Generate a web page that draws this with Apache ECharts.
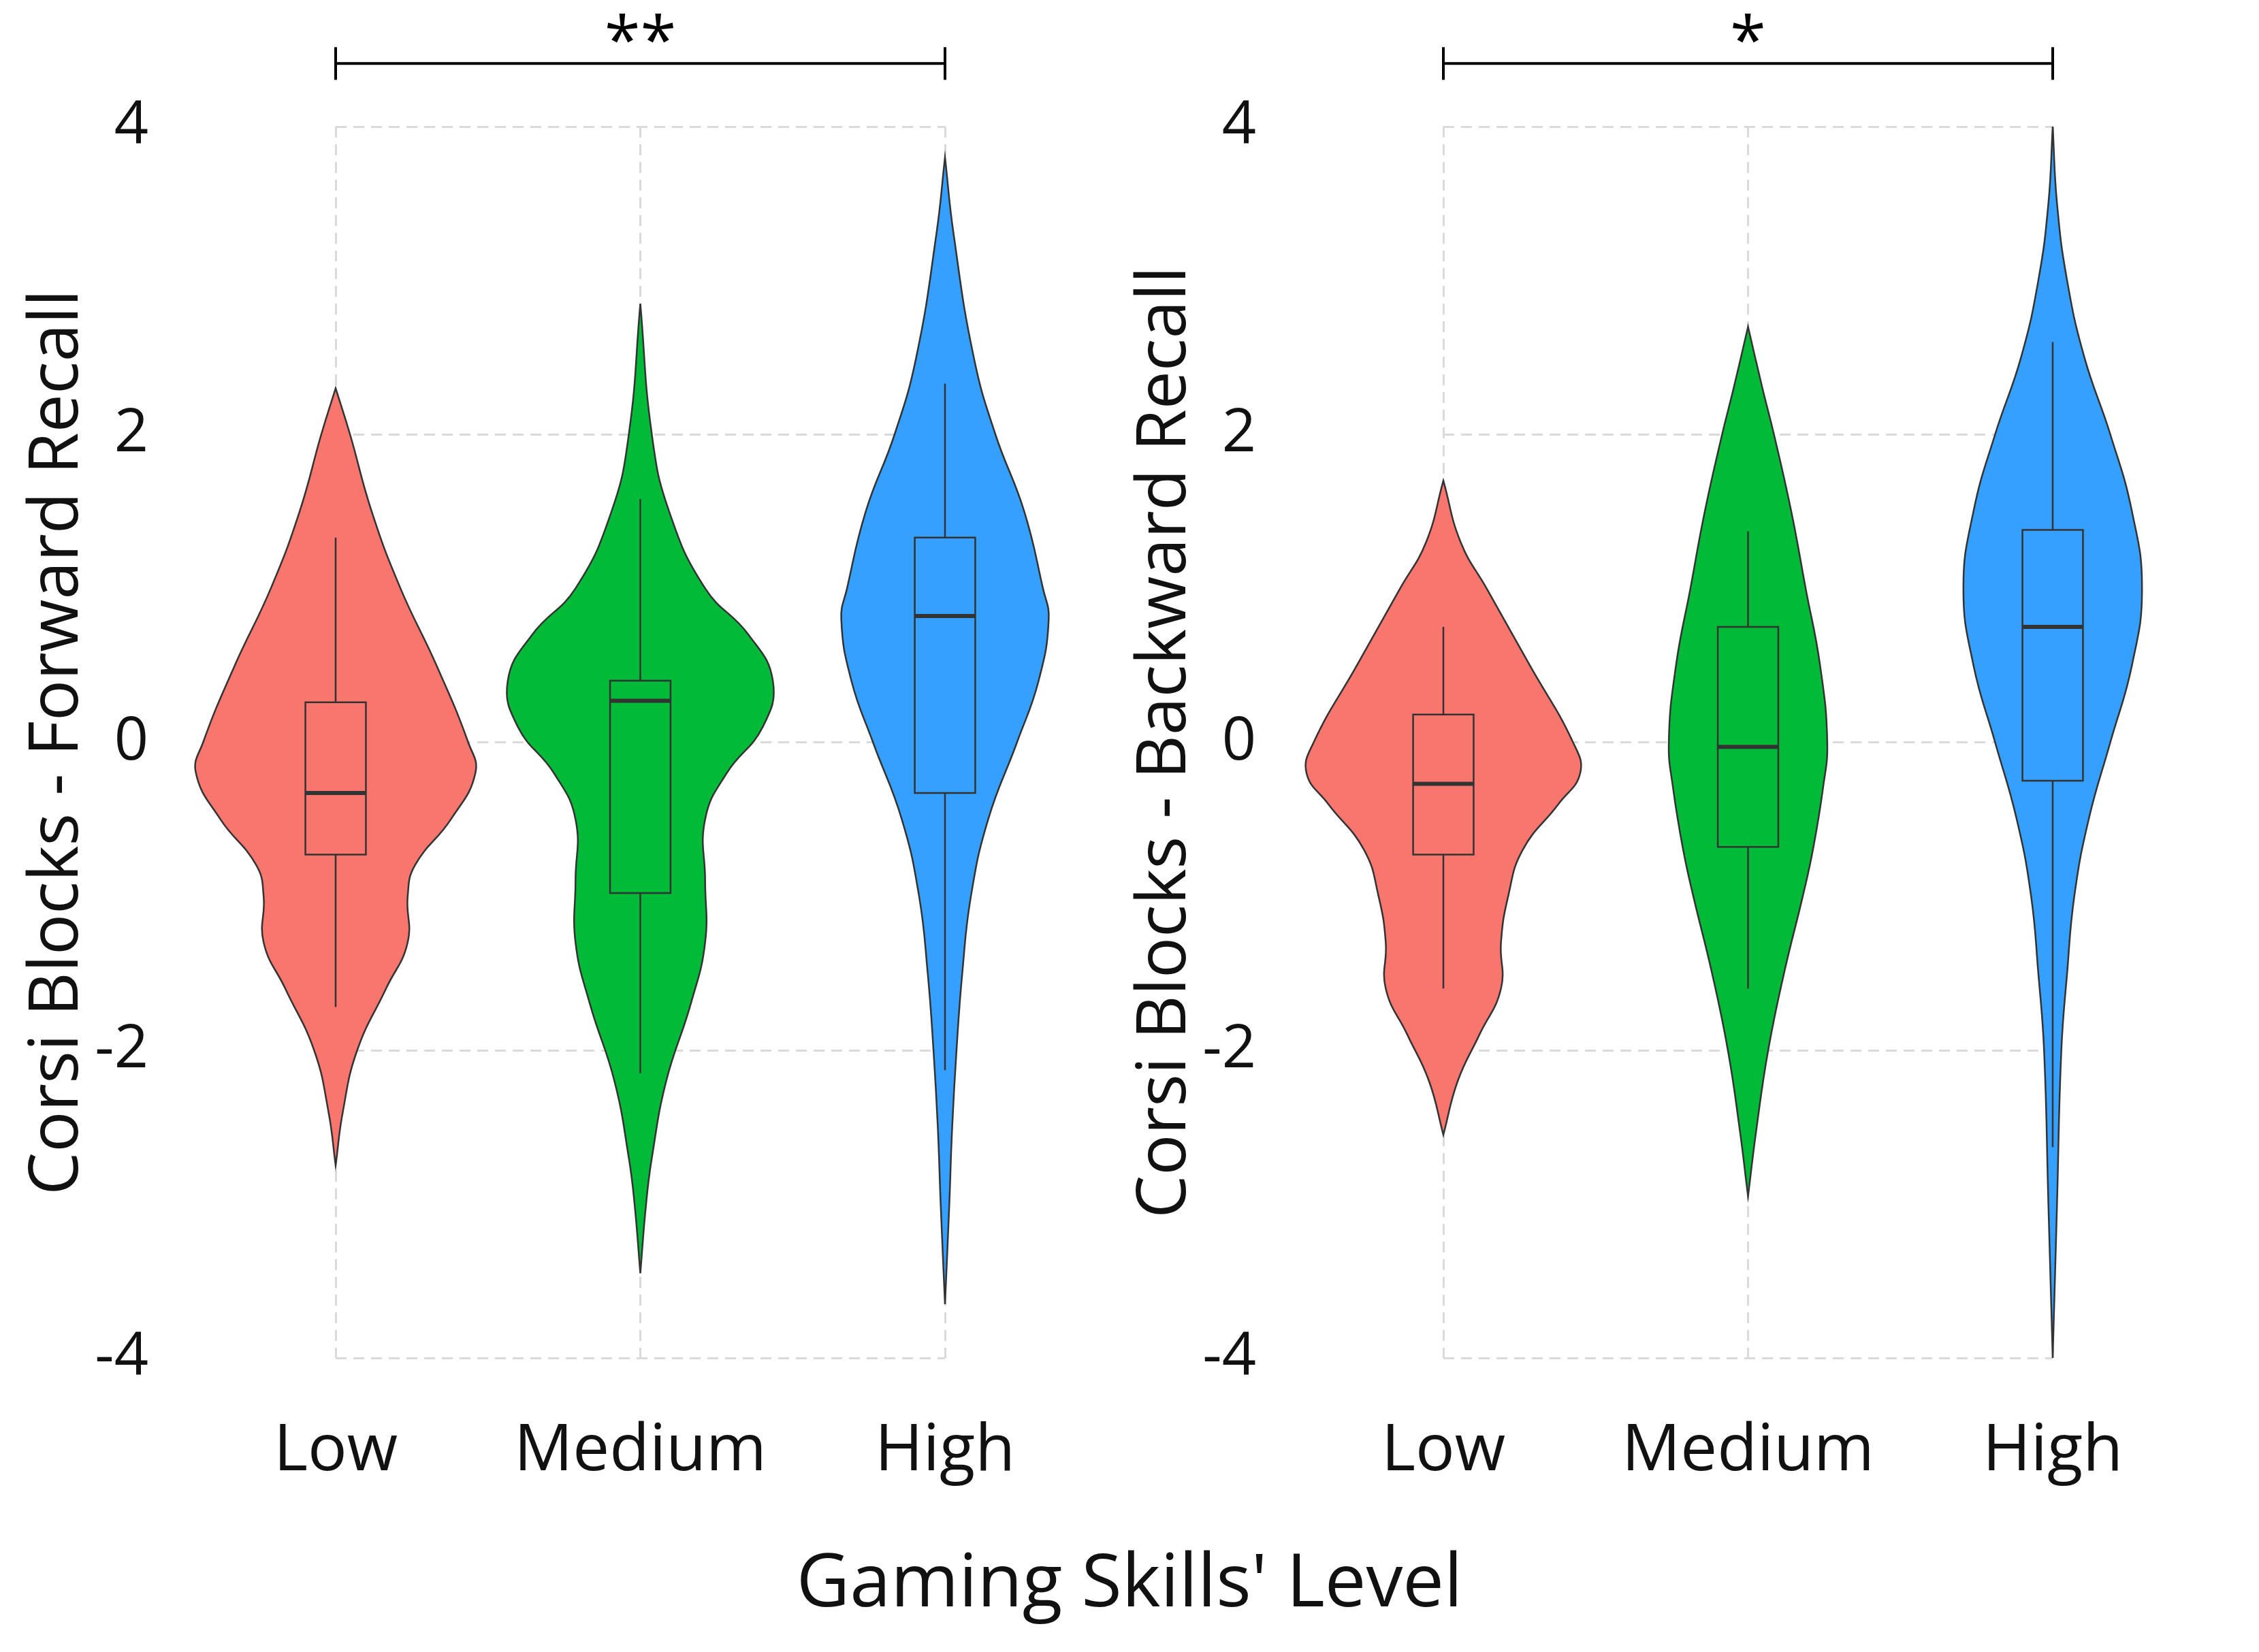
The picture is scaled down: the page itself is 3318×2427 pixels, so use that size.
<!DOCTYPE html>
<html lang="en">
<head>
<meta charset="UTF-8">
<title>Corsi Blocks violins</title>
<script src="https://cdn.jsdelivr.net/npm/echarts@6/dist/echarts.min.js"></script>
<style>html,body{margin:0;background:#fff}#chart{width:3318px;height:2427px}</style>
</head>
<body>
<div id="chart"></div>
<script>
const categories = ['Low', 'Medium', 'High'];
const colors = ['#F8766D', '#00BA38', '#35A0FF'];
const yTicks = [-4, -2, 0, 2, 4];

// violin profiles: [value, half-width in px of a 211.5px band]
const fwdViolins = [
  [[2.3,0],[2.0,10],[1.5,25],[1.0,45],[0.5,70],[0.0,92],[-0.2,97],[-0.5,80],[-0.8,55],[-1.0,50],[-1.3,50],[-1.6,35],[-2.0,15],[-2.4,5],[-2.75,0]],
  [[2.85,0],[2.0,8],[1.5,20],[1.0,45],[0.7,75],[0.4,92],[0.1,85],[-0.2,60],[-0.5,45],[-0.9,45],[-1.3,45],[-1.7,35],[-2.2,18],[-2.7,8],[-3.0,4],[-3.45,0]],
  [[3.8,0],[3.3,6],[2.5,20],[2.0,35],[1.5,55],[1.0,68],[0.8,72],[0.4,65],[0.0,50],[-0.5,30],[-1.0,18],[-1.5,12],[-2.0,8],[-2.5,5],[-3.0,3],[-3.65,0]]
];
const bwdViolins = [
  [[1.7,0],[1.3,12],[1.0,30],[0.5,60],[0.0,90],[-0.2,95],[-0.4,80],[-0.7,55],[-1.0,45],[-1.3,40],[-1.6,40],[-1.9,25],[-2.2,10],[-2.55,0]],
  [[2.7,0],[2.3,10],[2.0,18],[1.5,30],[1.0,40],[0.5,50],[0.0,55],[-0.3,52],[-0.7,45],[-1.0,38],[-1.5,25],[-2.0,14],[-2.5,6],[-2.95,0]],
  [[4.0,0],[3.5,3],[3.0,10],[2.5,22],[2.0,40],[1.5,55],[1.0,62],[0.5,55],[0.0,40],[-0.5,25],[-1.0,15],[-1.5,10],[-2.0,6],[-3.0,3],[-4.0,0]]
];
// boxes: [whiskerLow, q1, median, q3, whiskerHigh]
const fwdBoxes = [[-1.72,-0.73,-0.33,0.26,1.33],[-2.15,-0.98,0.27,0.4,1.58],[-2.13,-0.33,0.82,1.33,2.33]];
const bwdBoxes = [[-1.6,-0.73,-0.27,0.18,0.75],[-1.6,-0.68,-0.03,0.75,1.37],[-2.63,-0.25,0.75,1.38,2.6]];
// significance brackets: [from, to, y, label]
const fwdSig = [[0, 2, 4.41, '**']];
const bwdSig = [[0, 2, 4.41, '*']];

const BAND = 211.5;
const FONT = 'Open Sans';
const chart = echarts.init(document.getElementById('chart'));

function violinSeries(idx, profiles) {
  return {
    type: 'custom', xAxisIndex: idx, yAxisIndex: idx, clip: false, z: 2,
    data: profiles.map((p, i) => [i]),
    renderItem(params, api) {
      const i = api.value(0);
      const prof = profiles[i];
      const right = prof.map(([v, w]) => api.coord([i + w / BAND, v]));
      const left = prof.slice().reverse().map(([v, w]) => api.coord([i - w / BAND, v]));
      return { type: 'polygon', shape: { points: right.concat(left), smooth: 0.45 },
        style: { fill: colors[i], stroke: '#333', lineWidth: 2.5 } };
    }
  };
}
function boxSeries(idx, boxes) {
  return {
    type: 'custom', xAxisIndex: idx, yAxisIndex: idx, clip: false, z: 3,
    data: boxes.map((b, i) => [i].concat(b)),
    renderItem(params, api) {
      const i = api.value(0);
      const [lo, q1, med, q3, hi] = [1, 2, 3, 4, 5].map(k => api.value(k));
      const hw = 21 / BAND;
      const a = api.coord([i - hw, q3]), b = api.coord([i + hw, q1]);
      const line = (x1, y1, x2, y2, w) => {
        const p = api.coord([x1, y1]), q = api.coord([x2, y2]);
        return { type: 'line', shape: { x1: p[0], y1: p[1], x2: q[0], y2: q[1] }, style: { stroke: '#333', lineWidth: w || 2.5 } };
      };
      return { type: 'group', children: [
        line(i, q3, i, hi), line(i, q1, i, lo),
        { type: 'rect', shape: { x: a[0], y: a[1], width: b[0] - a[0], height: b[1] - a[1] }, style: { fill: colors[i], stroke: '#333', lineWidth: 2.5 } },
        line(i - hw, med, i + hw, med, 6)
      ] };
    }
  };
}
function sigSeries(idx, sig) {
  return {
    type: 'custom', xAxisIndex: idx, yAxisIndex: idx, clip: false, z: 4,
    data: sig,
    renderItem(params, api) {
      const p = api.coord([api.value(0), api.value(2)]), q = api.coord([api.value(1), api.value(2)]);
      const st = { stroke: '#000', lineWidth: 4 };
      const label = sig[params.dataIndex][3];
      return { type: 'group', children: [
        { type: 'line', shape: { x1: p[0], y1: p[1], x2: q[0], y2: q[1] }, style: st },
        { type: 'line', shape: { x1: p[0], y1: p[1] - 24, x2: p[0], y2: p[1] + 24 }, style: st },
        { type: 'line', shape: { x1: q[0], y1: q[1] - 24, x2: q[0], y2: q[1] + 24 }, style: st },
        { type: 'text', x: (p[0] + q[0]) / 2, y: p[1] + 20, style: { text: label, fontSize: 96, fontFamily: FONT, fill: '#000', align: 'center', verticalAlign: 'bottom' } }
      ] };
    }
  };
}
const dashed = { show: true, lineStyle: { color: '#dadada', width: 3, type: [16, 10] } };
function xAxis(idx) {
  return { type: 'value', gridIndex: idx, min: 0, max: 2, interval: 1,
    axisLine: { show: false }, axisTick: { show: false }, splitLine: dashed,
    axisLabel: { formatter: v => categories[v], fontSize: 96, fontFamily: FONT, color: '#111', margin: 90 } };
}
function yAxis(idx, name, gap) {
  return { type: 'value', gridIndex: idx, min: -4, max: 4, interval: 2,
    axisLine: { show: false }, axisTick: { show: false }, splitLine: dashed,
    axisLabel: { fontSize: 88, fontFamily: FONT, color: '#111', margin: 275, align: 'right' },
    name, nameLocation: 'middle', nameGap: gap, nameTextStyle: { fontSize: 100, fontFamily: FONT, color: '#111' } };
}
chart.setOption({
  backgroundColor: '#fff',
  animation: false,
  title: { text: "Gaming Skills' Level", left: 'center', top: 2270,
    textStyle: { fontSize: 108, fontWeight: 'normal', fontFamily: FONT, color: '#111' } },
  grid: [
    { left: 493, top: 186, width: 895, bottom: 432 },
    { left: 2120, top: 186, width: 895, bottom: 432 }
  ],
  xAxis: [xAxis(0), xAxis(1)],
  yAxis: [yAxis(0, 'Corsi Blocks - Forward Recall', 350), yAxis(1, 'Corsi Blocks - Backward Recall', 335)],
  series: [
    violinSeries(0, fwdViolins), boxSeries(0, fwdBoxes), sigSeries(0, fwdSig),
    violinSeries(1, bwdViolins), boxSeries(1, bwdBoxes), sigSeries(1, bwdSig)
  ]
});
</script>
</body>
</html>
